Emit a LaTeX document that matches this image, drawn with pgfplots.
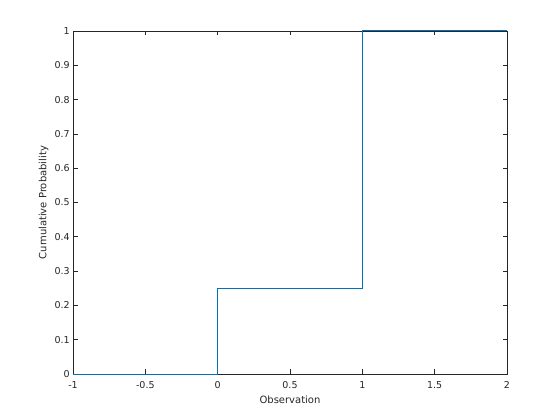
\documentclass[border=0pt]{standalone}
\usepackage{fontspec}
\setmainfont{DejaVu Sans}
\usepackage{pgfplots}
\pgfplotsset{compat=1.18}
\definecolor{mblue}{rgb}{0,0.447,0.741}
\definecolor{axgray}{rgb}{0.15,0.15,0.15}
\begin{document}
\fontsize{9.5bp}{11bp}\selectfont
\begin{tikzpicture}
\begin{axis}[
  set layers,
  scale only axis,
  width=434bp, height=343bp,
  xmin=-1, xmax=2, ymin=0, ymax=1,
  clip=false,
  xtick={-1,-0.5,...,2},
  ytick={0,0.1,...,1},
  /pgf/number format/assume math mode=true,
  xticklabel style={/pgf/number format/fixed,font=\fontsize{9.5bp}{11bp}\selectfont,text=axgray,yshift=-4bp},
  yticklabel style={/pgf/number format/fixed,font=\fontsize{9.5bp}{11bp}\selectfont,text=axgray},
  tick align=inside,
  major tick length=4.5bp,
  axis line style={axgray, line width=0.6bp},
  every tick/.style={axgray, line width=0.6bp},
  xlabel={Observation},
  ylabel={Cumulative Probability},
  label style={font=\fontsize{10bp}{12bp}\selectfont, text=axgray},
  xlabel style={yshift=-1bp},
  ylabel style={yshift=-0.5bp},
]
\addplot[mblue, line width=1bp, on layer=axis foreground] coordinates {(-1,0) (0,0) (0,0.25) (1,0.25) (1,1) (2,1)};
\end{axis}
\useasboundingbox ([shift={(-73bp,-46bp)}]current axis.south west) rectangle ([shift={(53bp,31bp)}]current axis.north east);
\end{tikzpicture}
\end{document}
